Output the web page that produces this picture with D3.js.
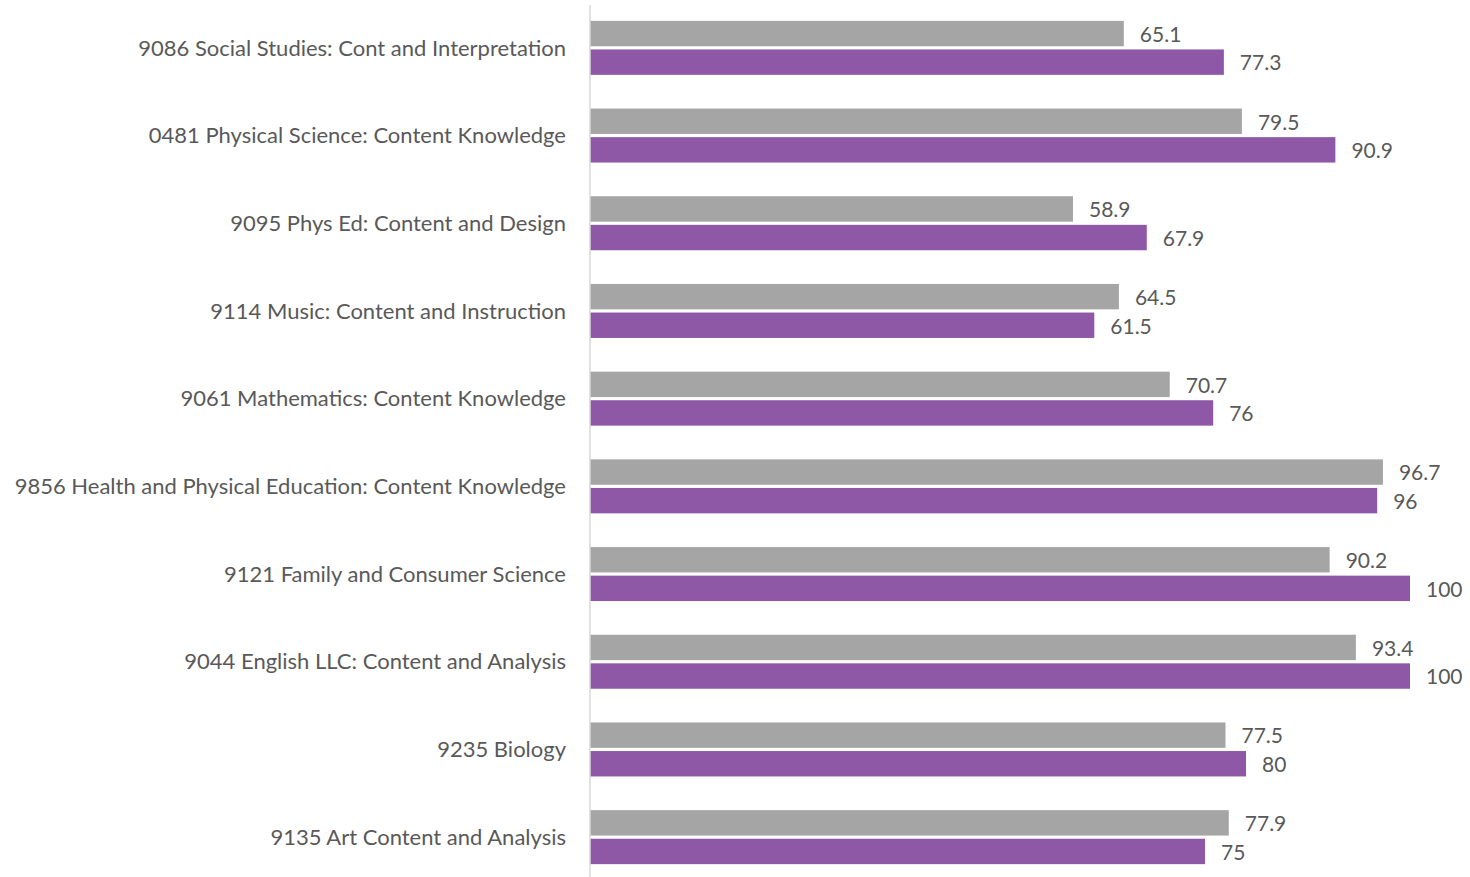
<!DOCTYPE html>
<html>
<head>
<meta charset="utf-8">
<script src="https://cdn.jsdelivr.net/npm/d3@7"></script>
<style>
  body { margin: 0; background: #fff; }
  svg text { font-family: Lato, "Open Sans", sans-serif; fill: #595959; }
</style>
</head>
<body>
<div id="chart"></div>
<script>
const categories = [
  '9086 Social Studies: Cont and Interpretation',
  '0481 Physical Science: Content Knowledge',
  '9095 Phys Ed: Content and Design',
  '9114 Music: Content and Instruction',
  '9061 Mathematics: Content Knowledge',
  '9856 Health and Physical Education: Content Knowledge',
  '9121 Family and Consumer Science',
  '9044 English LLC: Content and Analysis',
  '9235 Biology',
  '9135 Art Content and Analysis'
];
const grayValues = [65.1, 79.5, 58.9, 64.5, 70.7, 96.7, 90.2, 93.4, 77.5, 77.9];
const purpleValues = [77.3, 90.9, 67.9, 61.5, 76, 96, 100, 100, 80, 75];
const seriesColors = ['#a5a5a5', '#8e58a6'];

const width = 1470, height = 877;
const margin = { top: 4, right: 60, bottom: 0, left: 590 };

const svg = d3.select('#chart').append('svg')
  .attr('width', width)
  .attr('height', height);

const x = d3.scaleLinear()
  .domain([0, 100])
  .range([margin.left, 1410]);

const y = d3.scaleBand()
  .domain(categories)
  .range([margin.top, 881]);

const barH = 24, gap = 6;
const inner = d3.scaleBand()
  .domain([0, 1])
  .range([y.bandwidth() / 2 - barH - gap / 2, y.bandwidth() / 2 + barH + gap / 2])
  .paddingInner(gap / (2 * barH + gap));

const rows = categories.map((c, i) => ({ cat: c, vals: [grayValues[i], purpleValues[i]] }));

const group = svg.selectAll('g.row')
  .data(rows)
  .join('g')
  .attr('class', 'row')
  .attr('transform', d => `translate(0,${y(d.cat)})`);

group.selectAll('rect')
  .data(d => d.vals)
  .join('rect')
  .attr('x', x(0))
  .attr('y', (d, i) => inner(i))
  .attr('width', d => x(d) - x(0))
  .attr('height', inner.bandwidth())
  .attr('fill', (d, i) => seriesColors[i]);

group.selectAll('text.val')
  .data(d => d.vals)
  .join('text')
  .attr('class', 'val')
  .attr('x', d => x(d) + 16)
  .attr('y', (d, i) => inner(i) + inner.bandwidth() / 2 + 1)
  .attr('dy', '0.35em')
  .style('font-size', '21px')
  .text(d => d);

// category labels
svg.selectAll('text.cat')
  .data(categories)
  .join('text')
  .attr('class', 'cat')
  .attr('x', 566)
  .attr('y', d => y(d) + y.bandwidth() / 2)
  .attr('dy', '0.35em')
  .attr('text-anchor', 'end')
  .style('font-size', '22px')
  .text(d => d);

// vertical axis line
svg.append('line')
  .attr('x1', x(0)).attr('x2', x(0))
  .attr('y1', 5).attr('y2', height)
  .attr('stroke', '#d9d9d9')
  .attr('stroke-width', 1.5);
</script>
</body>
</html>
